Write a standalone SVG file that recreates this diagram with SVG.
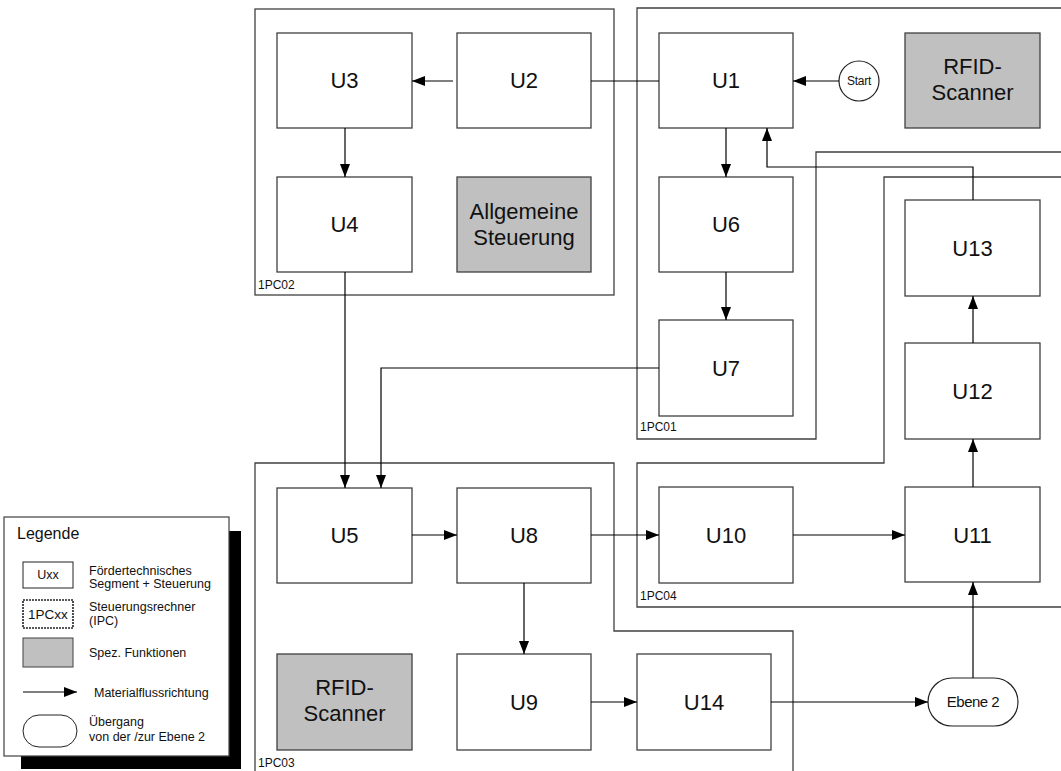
<svg xmlns="http://www.w3.org/2000/svg" width="1061" height="771" viewBox="0 0 1061 771">
<defs>
<marker id="ah" markerUnits="userSpaceOnUse" markerWidth="14" markerHeight="10" refX="13" refY="5" orient="auto">
<path d="M0,0 L13,5 L0,10 Z" fill="#000"/>
</marker>
<style>
.box{fill:#fff;stroke:#404040;stroke-width:1.3}
.spec{fill:#c0c0c0;stroke:#404040;stroke-width:1.3}
.cont{fill:none;stroke:#404040;stroke-width:1.3}
.lbl{font-family:"Liberation Sans",Arial,sans-serif;font-size:22px;fill:#111;text-anchor:middle}
.small{font-family:"Liberation Sans",Arial,sans-serif;font-size:12px;fill:#111}
.leg{font-family:"Liberation Sans",Arial,sans-serif;font-size:12.5px;fill:#111}
.con{fill:none;stroke:#000;stroke-width:1.2}
</style>
</defs>
<rect width="1061" height="771" fill="#fff"/>

<!-- containers -->
<g id="c1PC02"><rect class="cont" x="255" y="9" width="359" height="286"/><text class="small" x="258" y="289">1PC02</text></g>
<g id="c1PC01"><path class="cont" d="M1070,8 L637,8 L637,439 L816,439 L816,152 L1070,152"/><text class="small" x="640" y="431">1PC01</text></g>
<g id="c1PC04"><path class="cont" d="M1070,177 L884,177 L884,463 L637,463 L637,607 L1070,607"/><text class="small" x="640" y="600">1PC04</text></g>
<g id="c1PC03"><path class="cont" d="M255,780 L255,463 L614,463 L614,631 L793,631 L793,780"/><text class="small" x="258" y="767">1PC03</text></g>

<!-- nodes -->
<g id="U3"><rect class="box" x="277" y="33" width="135" height="95"/><text class="lbl" x="344.5" y="88">U3</text></g>
<g id="U2"><rect class="box" x="457" y="33" width="134" height="95"/><text class="lbl" x="524" y="88">U2</text></g>
<g id="U4"><rect class="box" x="277" y="177" width="135" height="95"/><text class="lbl" x="344.5" y="232">U4</text></g>
<g id="Allgemeine"><rect class="spec" x="457" y="177" width="134" height="95"/><text class="lbl" x="524" y="219">Allgemeine</text><text class="lbl" x="524" y="245">Steuerung</text></g>
<g id="U1"><rect class="box" x="659" y="33" width="134" height="95"/><text class="lbl" x="726" y="88">U1</text></g>
<g id="Start"><circle cx="859" cy="81" r="20" fill="#fff" stroke="#222" stroke-width="1.2"/><text class="small" x="859" y="85" style="font-size:12px;text-anchor:middle;letter-spacing:-0.3px">Start</text></g>
<g id="RFID1"><rect class="spec" x="905" y="33" width="135" height="95"/><text class="lbl" x="972.5" y="74">RFID-</text><text class="lbl" x="972.5" y="100">Scanner</text></g>
<g id="U6"><rect class="box" x="659" y="177" width="134" height="95"/><text class="lbl" x="726" y="232">U6</text></g>
<g id="U13"><rect class="box" x="905" y="200" width="135" height="96"/><text class="lbl" x="972.5" y="256">U13</text></g>
<g id="U7"><rect class="box" x="659" y="320" width="134" height="96"/><text class="lbl" x="726" y="376">U7</text></g>
<g id="U12"><rect class="box" x="905" y="343" width="135" height="96"/><text class="lbl" x="972.5" y="399">U12</text></g>
<g id="U5"><rect class="box" x="277" y="488" width="135" height="95"/><text class="lbl" x="344.5" y="543">U5</text></g>
<g id="U8"><rect class="box" x="457" y="488" width="134" height="95"/><text class="lbl" x="524" y="543">U8</text></g>
<g id="U10"><rect class="box" x="659" y="487" width="134" height="96"/><text class="lbl" x="726" y="543">U10</text></g>
<g id="U11"><rect class="box" x="905" y="487" width="135" height="95"/><text class="lbl" x="972.5" y="543">U11</text></g>
<g id="RFID2"><rect class="spec" x="277" y="654" width="135" height="96"/><text class="lbl" x="344.5" y="695">RFID-</text><text class="lbl" x="344.5" y="721">Scanner</text></g>
<g id="U9"><rect class="box" x="457" y="654" width="134" height="96"/><text class="lbl" x="524" y="710">U9</text></g>
<g id="U14"><rect class="box" x="637" y="654" width="134" height="96"/><text class="lbl" x="704" y="710">U14</text></g>
<g id="Ebene2"><rect x="928" y="678" width="90" height="48" rx="24" fill="#fff" stroke="#222" stroke-width="1.2"/><text class="small" x="973" y="707" style="font-size:15px;text-anchor:middle;letter-spacing:-0.5px">Ebene 2</text></g>

<!-- connectors -->
<g id="connectors">
<path class="con" d="M453,81 L412,81" marker-end="url(#ah)"/>
<path class="con" d="M591,81 L659,81"/>
<path class="con" d="M345,128 L345,177" marker-end="url(#ah)"/>
<path class="con" d="M345,272 L345,488" marker-end="url(#ah)"/>
<path class="con" d="M839,81 L793,81" marker-end="url(#ah)"/>
<path class="con" d="M726,128 L726,177" marker-end="url(#ah)"/>
<path class="con" d="M973,200 L973,167 L767,167 L767,128" marker-end="url(#ah)"/>
<path class="con" d="M726,272 L726,320" marker-end="url(#ah)"/>
<path class="con" d="M659,368 L381,368 L381,488" marker-end="url(#ah)"/>
<path class="con" d="M973,343 L973,296" marker-end="url(#ah)"/>
<path class="con" d="M973,487 L973,439" marker-end="url(#ah)"/>
<path class="con" d="M412,535 L457,535" marker-end="url(#ah)"/>
<path class="con" d="M591,535 L659,535" marker-end="url(#ah)"/>
<path class="con" d="M793,535 L905,535" marker-end="url(#ah)"/>
<path class="con" d="M524,583 L524,654" marker-end="url(#ah)"/>
<path class="con" d="M591,702 L637,702" marker-end="url(#ah)"/>
<path class="con" d="M771,702 L928,702" marker-end="url(#ah)"/>
<path class="con" d="M973,678 L973,582" marker-end="url(#ah)"/>
</g>

<!-- legend -->
<g id="legend">
<rect x="21" y="531" width="220" height="238" fill="#000"/>
<rect x="4" y="517" width="225" height="239" fill="#fff" stroke="#404040" stroke-width="1.2"/>
<text class="leg" x="17" y="539" style="font-size:16px">Legende</text>
<rect x="23" y="562" width="50" height="26" fill="#fff" stroke="#222" stroke-width="1"/>
<text class="leg" x="48" y="579" style="text-anchor:middle">Uxx</text>
<text class="leg" x="89" y="575">Fördertechnisches</text>
<text class="leg" x="89" y="588">Segment + Steuerung</text>
<rect x="23" y="600" width="50" height="28" fill="#fff" stroke="#222" stroke-width="1.6" stroke-dasharray="2,1"/>
<text class="leg" x="48" y="619" style="text-anchor:middle;font-size:13.5px">1PCxx</text>
<text class="leg" x="89" y="611">Steuerungsrechner</text>
<text class="leg" x="89" y="625">(IPC)</text>
<rect x="23" y="638" width="50" height="29" fill="#c0c0c0" stroke="#404040" stroke-width="1"/>
<text class="leg" x="89" y="657">Spez. Funktionen</text>
<path class="con" d="M23,692 L77,692" marker-end="url(#ah)"/>
<text class="leg" x="94" y="697">Materialflussrichtung</text>
<rect x="23" y="715" width="54" height="32" rx="16" fill="#fff" stroke="#222" stroke-width="1"/>
<text class="leg" x="89" y="726">Übergang</text>
<text class="leg" x="89" y="741">von der /zur Ebene 2</text>
</g>
</svg>
